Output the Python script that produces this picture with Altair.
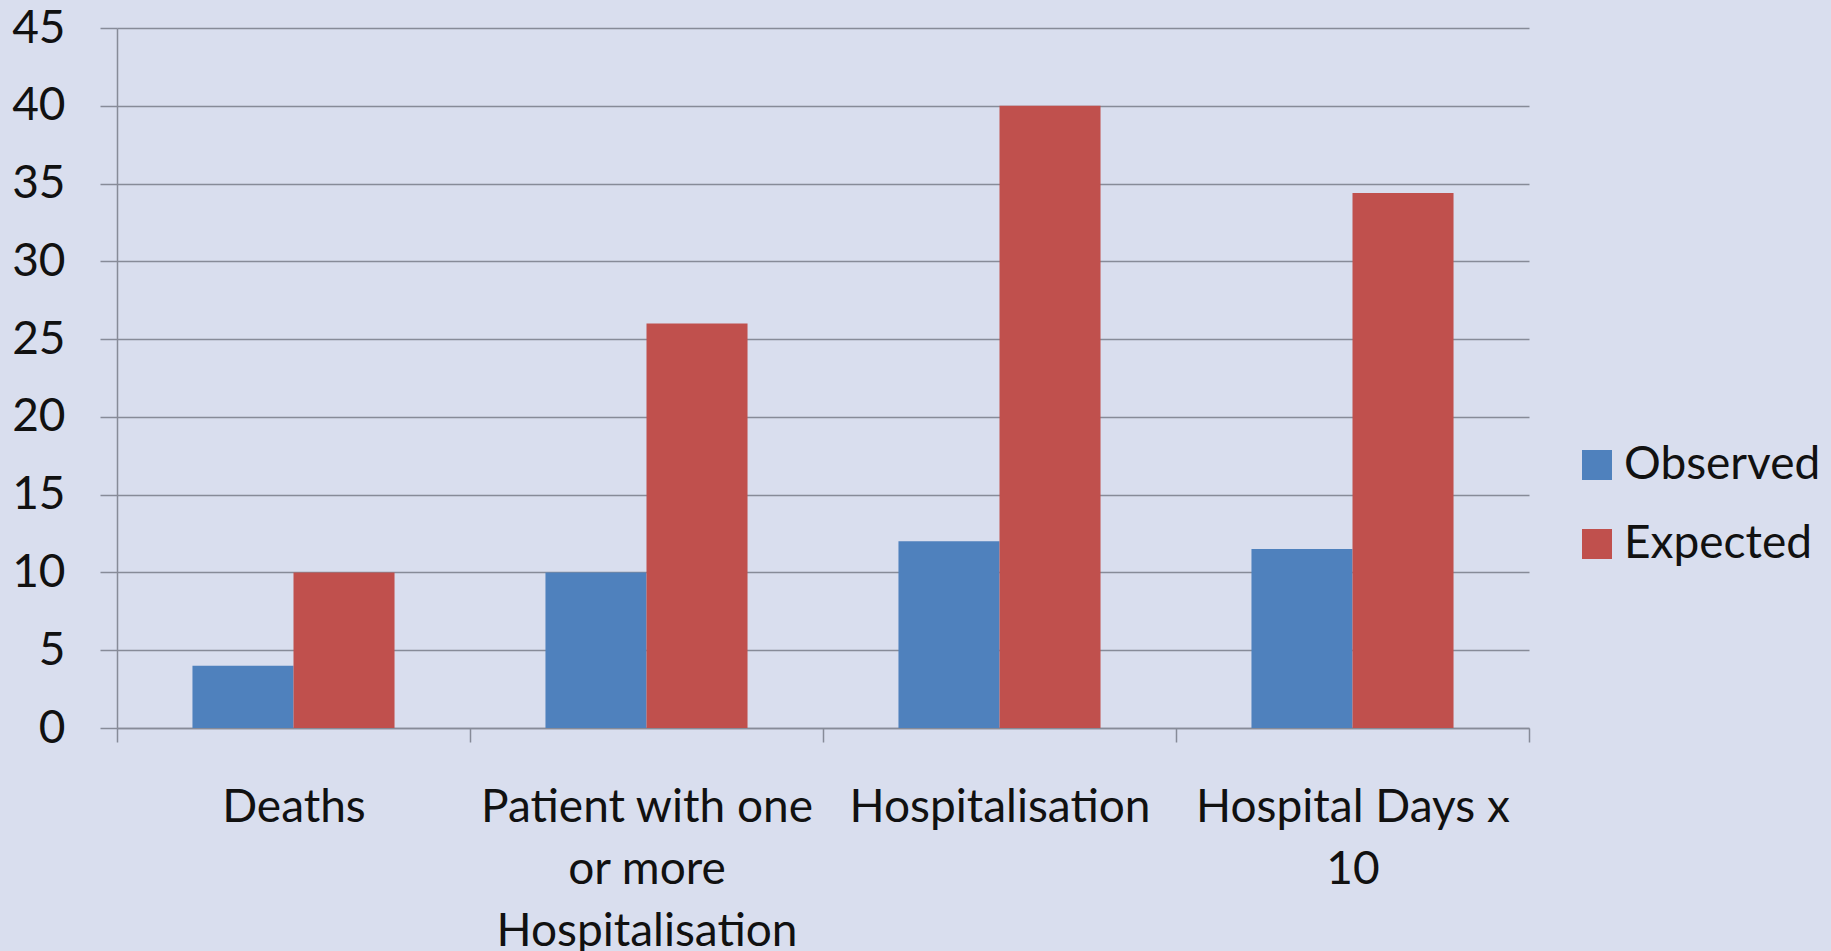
import altair as alt
import pandas as pd

# Categories, wrapped axis labels and the two series
categories = ["Deaths", "Patient with one or more Hospitalisation",
              "Hospitalisation", "Hospital Days x 10"]
wrapped_labels = [["Deaths"], ["Patient with one", "or more", "Hospitalisation"],
                  ["Hospitalisation"], ["Hospital Days x", "10"]]
series = ["Observed", "Expected"]
observed = [4, 10, 12, 11.5]
expected = [10, 26, 40, 34.4]
y_ticks = [0, 5, 10, 15, 20, 25, 30, 35, 40, 45]

rows = []
for cat, o, e in zip(categories, observed, expected):
    rows.append({"category": cat, "series": "Observed", "value": o})
    rows.append({"category": cat, "series": "Expected", "value": e})
df = pd.DataFrame(rows)

label_map = ", ".join(
    "'%s': [%s]" % (c, ", ".join("'%s'" % s for s in lines))
    for c, lines in zip(categories, wrapped_labels)
)
label_expr = "({%s})[datum.value]" % label_map

FONT = "Lato"
GRID = "#878b98"

chart = alt.Chart(df).mark_bar().encode(
    x=alt.X(
        "category:N",
        sort=categories,
        scale=alt.Scale(paddingInner=0, paddingOuter=0),
        axis=alt.Axis(
            title=None, labelAngle=0, labelExpr=label_expr, labelLimit=0,
            labelFont=FONT, labelFontSize=46, labelColor="#111111",
            labelLineHeight=62, labelPadding=43, labelBaseline="top",
            tickBand="extent", tickSize=14, tickColor=GRID, tickWidth=1.5,
            domainColor=GRID, domainWidth=1.5, grid=False,
        ),
    ),
    xOffset=alt.XOffset(
        "series:N", sort=series,
        scale=alt.Scale(paddingInner=0, paddingOuter=0.747),
    ),
    y=alt.Y(
        "value:Q",
        scale=alt.Scale(domain=[0, 45], nice=False),
        axis=alt.Axis(
            title=None, values=y_ticks,
            labelFont=FONT, labelFontSize=46, labelColor="#111111",
            labelPadding=35, tickSize=17, tickColor=GRID, tickWidth=1.5,
            domainColor=GRID, domainWidth=1.5,
            grid=True, gridColor=GRID, gridWidth=1.5,
        ),
    ),
    color=alt.Color(
        "series:N", sort=series,
        scale=alt.Scale(domain=series, range=["#4f81bd", "#c0504d"]),
        legend=alt.Legend(
            title=None, orient="none", legendX=1457, legendY=414,
            symbolType="square", symbolSize=900, symbolStrokeWidth=0,
            labelFont=FONT, labelFontSize=46, labelColor="#111111",
            labelLimit=0, labelOffset=4, rowPadding=33,
        ),
    ),
).properties(
    width=1412, height=700,
    autosize=alt.AutoSizeParams(type="none"),
    padding={"left": 117, "top": 28, "right": 302, "bottom": 223},
    background="#d9deee",
).configure_view(stroke=None)

chart.save("out.html", embed_options={"renderer": "svg", "actions": False})
